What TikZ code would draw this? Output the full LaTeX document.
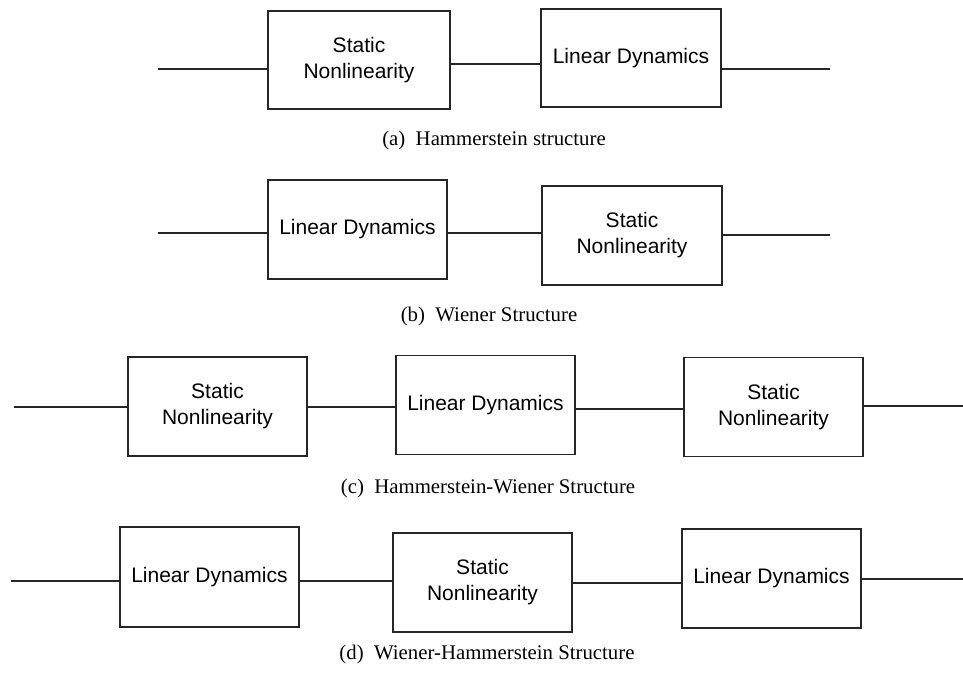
\documentclass[tikz,border=0pt]{standalone}
\usepackage{fontspec}
\setmainfont{Liberation Serif}
\newfontfamily\boxfont{Liberation Sans}
\tikzset{
  blk/.style={draw=black!85, line width=1.2pt, fill=white, inner sep=0pt, align=center,
    font=\boxfont\fontsize{21}{26}\selectfont},
  wire/.style={draw=black!85, line width=1.2pt},
  captext/.style={inner sep=0pt, font=\fontsize{20.8}{24}\selectfont}
}
\newcommand{\sublabel}[2]{(#1)\hspace{0.5em}#2}
\begin{document}
\begin{tikzpicture}[x=1pt,y=-1pt]
\useasboundingbox (0,0) rectangle (963,673);
% (a) Hammerstein
\node[blk, minimum width=182pt, minimum height=98pt] (a1) at (359,60) {Static\\Nonlinearity};
\node[blk, minimum width=180pt, minimum height=98pt] (a2) at (631,58) {Linear Dynamics};
\coordinate (a0) at (158,69);
\coordinate (a3) at (830,69);
\coordinate (am) at (0,64);
\draw[wire] (a0) -- (a1.west |- a0);
\draw[wire] (a1.east |- am) -- (a2.west |- am);
\draw[wire] (a2.east |- a3) -- (a3);
\node[captext] (ca) at (494,140) {\sublabel{a}{Hammerstein structure}};
% (b) Wiener
\node[blk, minimum width=179pt, minimum height=99pt] (b1) at (357.5,229.5) {Linear Dynamics};
\node[blk, minimum width=180pt, minimum height=99pt] (b2) at (632,235.5) {Static\\Nonlinearity};
\coordinate (b0) at (158,233);
\coordinate (b3) at (830,235);
\draw[wire] (b0) -- (b1.west |- b0);
\draw[wire] (b1.east |- b0) -- (b2.west |- b0);
\draw[wire] (b2.east |- b3) -- (b3);
\node[captext] (cb) at (489,316) {\sublabel{b}{Wiener Structure}};
% (c) Hammerstein-Wiener
\node[blk, minimum width=179pt, minimum height=99pt] (c1) at (217.5,406.5) {Static\\Nonlinearity};
\node[blk, minimum width=179pt, minimum height=99pt] (c2) at (485.5,405) {Linear Dynamics};
\node[blk, minimum width=179pt, minimum height=99pt] (c3) at (773.5,407) {Static\\Nonlinearity};
\coordinate (c0) at (14,407);
\coordinate (cm) at (0,409);
\coordinate (c4) at (963,406);
\draw[wire] (c0) -- (c1.west |- c0);
\draw[wire] (c1.east |- c0) -- (c2.west |- c0);
\draw[wire] (c2.east |- cm) -- (c3.west |- cm);
\draw[wire] (c3.east |- c4) -- (c4);
\node[captext] (cc) at (488,488) {\sublabel{c}{Hammerstein-Wiener Structure}};
% (d) Wiener-Hammerstein
\node[blk, minimum width=179pt, minimum height=100pt] (d1) at (209.5,577) {Linear Dynamics};
\node[blk, minimum width=179pt, minimum height=99pt] (d2) at (482.5,582.5) {Static\\Nonlinearity};
\node[blk, minimum width=179pt, minimum height=99pt] (d3) at (771.5,578.5) {Linear Dynamics};
\coordinate (d0) at (11,581);
\coordinate (dm) at (0,583);
\coordinate (d4) at (963,579);
\draw[wire] (d0) -- (d1.west |- d0);
\draw[wire] (d1.east |- d0) -- (d2.west |- d0);
\draw[wire] (d2.east |- dm) -- (d3.west |- dm);
\draw[wire] (d3.east |- d4) -- (d4);
\node[captext] (cd) at (487,654) {\sublabel{d}{Wiener-Hammerstein Structure}};
\end{tikzpicture}
\end{document}
